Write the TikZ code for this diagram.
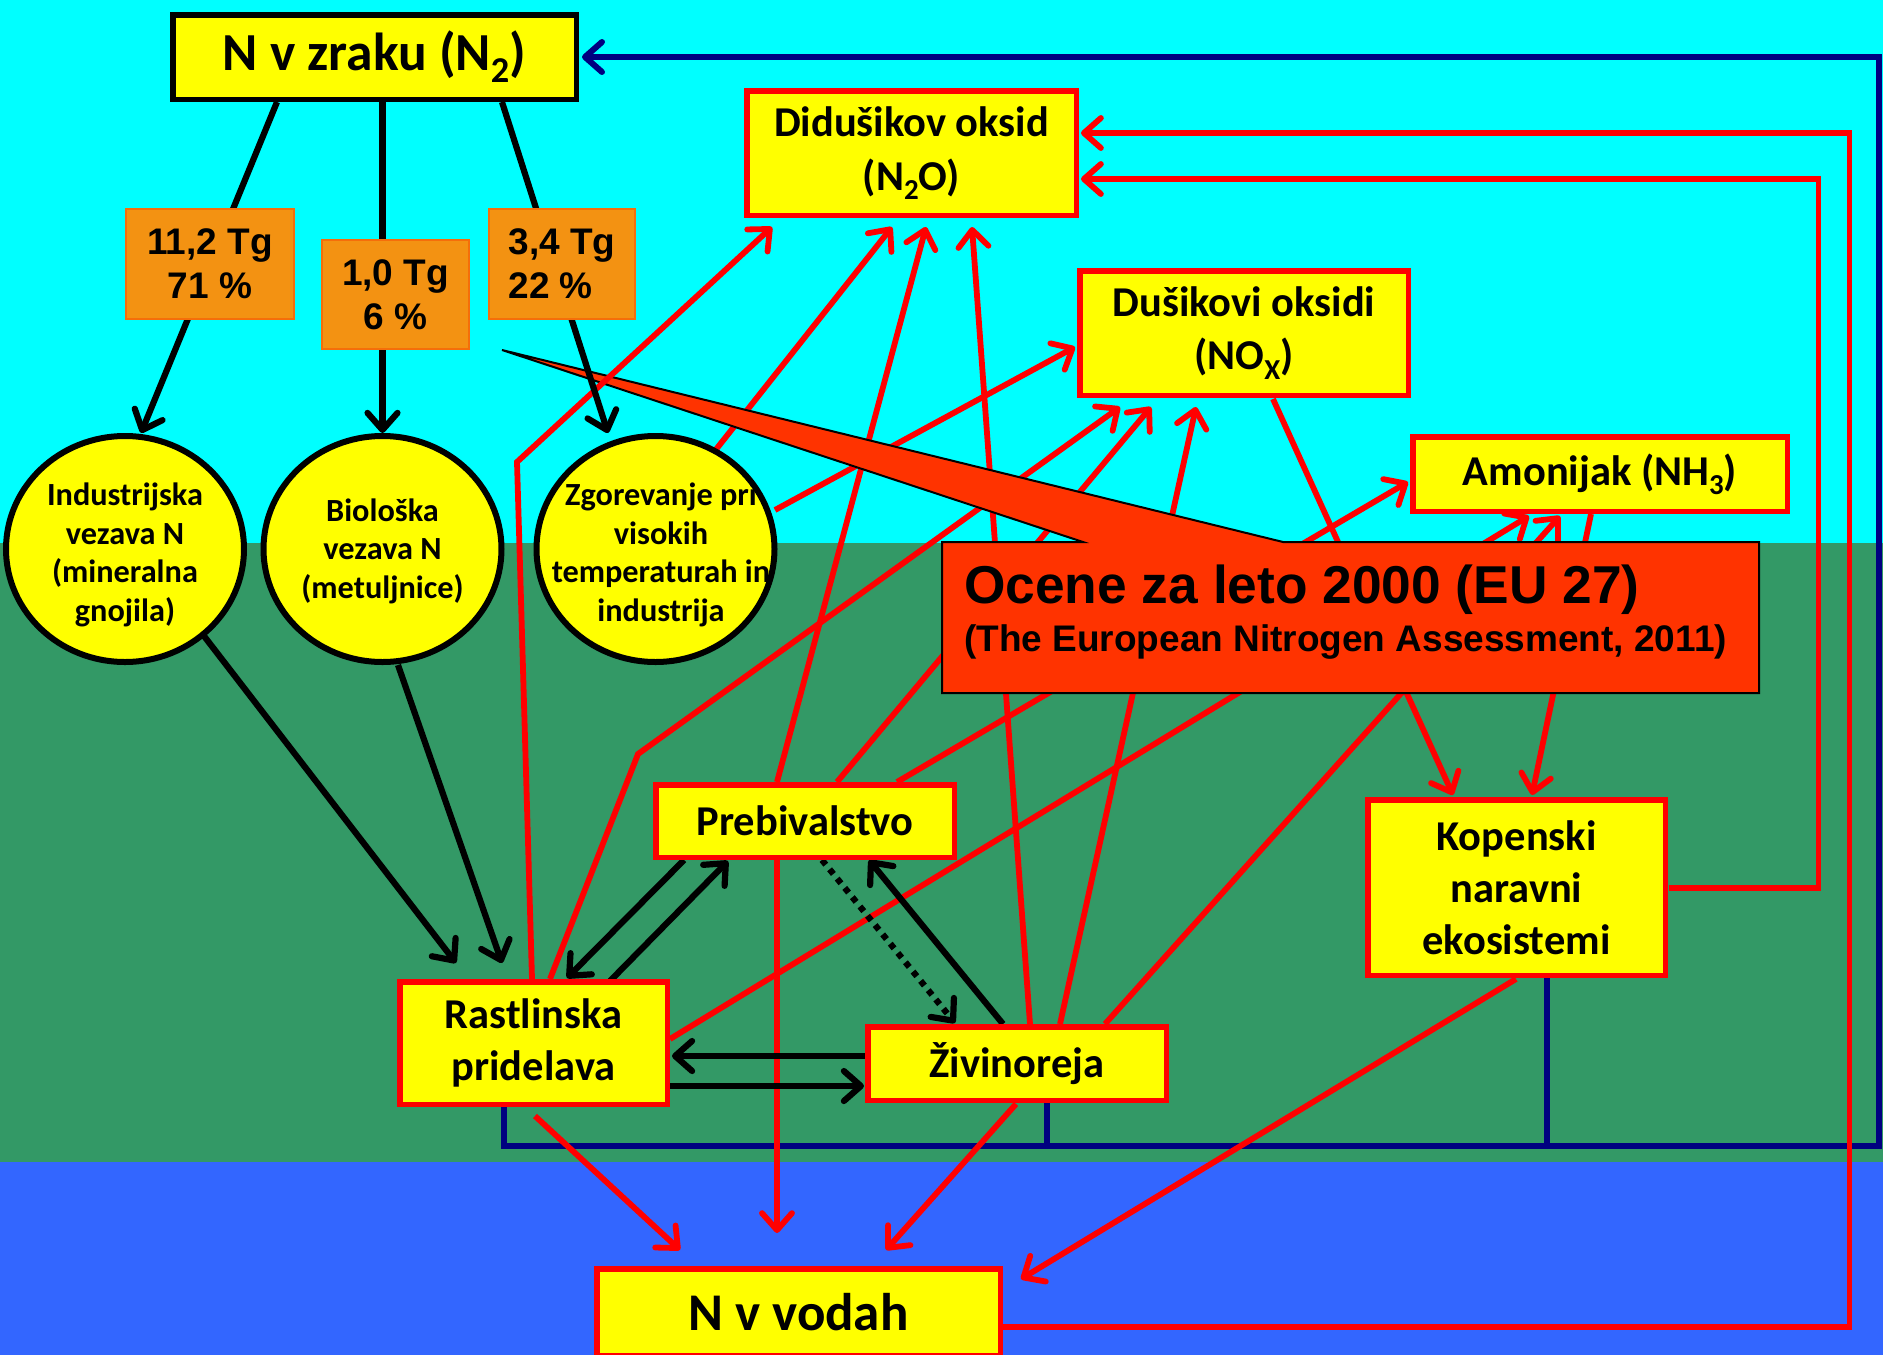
\documentclass[tikz,border=0pt]{standalone}
\usepackage{graphicx}
\usepackage{fontspec}
\setmainfont{Carlito}
\newfontfamily\arialfont{Liberation Sans}
\usetikzlibrary{arrows.meta,calc,shapes.geometric}
\pgfdeclarelayer{bg}
\pgfdeclarelayer{rlines}
\pgfdeclarelayer{calloutlayer}
\pgfdeclarelayer{toplines}
\pgfsetlayers{bg,rlines,calloutlayer,toplines,main}
\definecolor{skycyan}{RGB}{0,255,255}
\definecolor{fieldgreen}{RGB}{51,153,102}
\definecolor{waterblue}{RGB}{51,102,255}
\definecolor{boxyellow}{RGB}{255,255,0}
\definecolor{lred}{RGB}{255,0,0}
\definecolor{lnavy}{RGB}{0,0,128}
\definecolor{ofill}{RGB}{243,146,18}
\definecolor{oborder}{RGB}{245,110,10}
\definecolor{callred}{RGB}{255,51,0}
\newcommand\chemsub[1]{\raisebox{-0.22em}{\scalebox{0.68}{#1}}}
\begin{document}
\begin{tikzpicture}[x=1pt,y=-1pt,
  ybox/.style={draw=lred, line width=5.5pt, fill=boxyellow, inner sep=0pt, outer sep=0pt, align=center, font=\bfseries\fontsize{42.5}{52}\selectfont},
  obox/.style={draw=oborder, line width=2pt, fill=ofill, inner sep=0pt, outer sep=0pt, font=\arialfont\bfseries\fontsize{37}{44}\selectfont},
  yell/.style={ellipse, draw=black, line width=6pt, fill=boxyellow, inner sep=0pt, outer sep=0pt},
  etext/.style={align=center, inner sep=0pt, font=\bfseries\fontsize{32.3}{38.5}\selectfont},
  rline/.style={draw=lred, line width=5.8pt},
  rarr/.style={rline, -{Straight Barb[length=17pt,width=30pt,round]}},
  bline/.style={draw=black, line width=6.2pt},
  barr/.style={bline, -{Straight Barb[length=17pt,width=30pt,round]}},
  nline/.style={draw=lnavy, line width=6pt},
]
\useasboundingbox (0,0) rectangle (1883,1355);
\clip (0,0) rectangle (1883,1355);

% ---------- nodes ----------
\node[ybox, draw=black, minimum width=403.5pt, minimum height=84.5pt, font=\bfseries\fontsize{53.5}{62}\selectfont] (air) at (374.5,57) {N v zraku (N\chemsub{2})};
\node[ybox, minimum width=329.5pt, minimum height=124.5pt, font=\bfseries\fontsize{42.5}{54}\selectfont] (n2o) at (911.5,153) {Didušikov oksid\\(N\chemsub{2}O)};
\node[ybox, minimum width=328.5pt, minimum height=124.5pt, font=\bfseries\fontsize{42.5}{53}\selectfont] (nox) at (1244,333) {Dušikovi oksidi\\(NO\chemsub{X})};
\node[ybox, minimum width=374.5pt, minimum height=74.5pt, font=\bfseries\fontsize{42.5}{51}\selectfont] (nh3) at (1600,474) {Amonijak (NH\chemsub{3})};
\node[ybox, minimum width=298.5pt, minimum height=72.5pt] (preb) at (805,821) {Prebivalstvo};
\node[ybox, minimum width=267.5pt, minimum height=122.5pt] (rast) at (533.5,1043) {Rastlinska\\pridelava};
\node[ybox, minimum width=298.5pt, minimum height=73.5pt] (ziv) at (1017,1063.5) {Živinoreja};
\node[ybox, minimum width=403.5pt, minimum height=86.5pt, font=\bfseries\fontsize{53}{62}\selectfont] (vod) at (798.5,1312) {N v vodah};
\node[ybox, minimum width=297.5pt, minimum height=175.5pt] (kop) at (1516.5,887.5) {Kopenski\\naravni\\ekosistemi};

\node[obox, minimum width=168pt, minimum height=110pt, align=center] (o1) at (210,264) {11,2 Tg\\71 \%};
\node[obox, minimum width=147pt, minimum height=109pt, align=center] (o2) at (395.5,294.5) {1,0 Tg\\6 \%};
\node[obox, minimum width=146pt, minimum height=110pt, align=left] (o3) at (562,264) {3,4 Tg\\22 \%};

\node[yell, minimum width=238pt, minimum height=226pt] (e1) at (125,549) {};
\node[etext] (e1t) at (125,555) {Industrijska\\vezava N\\(mineralna\\gnojila)};
\node[yell, minimum width=238pt, minimum height=226pt] (e2) at (382.5,549) {};
\node[etext] (e2t) at (382.5,551) {Biološka\\vezava N\\(metuljnice)};
\node[yell, minimum width=238pt, minimum height=226pt] (e3) at (655.5,549) {};
\node[etext] (e3t) at (661,555) {Zgorevanje pri\\visokih\\temperaturah in\\industrija};

\node[anchor=base west, inner sep=0pt, font=\arialfont\bfseries\fontsize{53.3}{60}\selectfont] (callout) at (964,603) {Ocene za leto 2000 (EU 27)};
\node[anchor=base west, inner sep=0pt, font=\arialfont\bfseries\fontsize{37}{44}\selectfont] (calloutsub) at (964,651) {(The European Nitrogen Assessment, 2011)};

% ---------- background ----------
\begin{pgfonlayer}{bg}
\fill[skycyan] (0,0) rectangle (1883,543);
\fill[fieldgreen] (0,543) rectangle (1883,1162);
\fill[waterblue] (0,1162) rectangle (1883,1355);
\end{pgfonlayer}

% ---------- navy and red connectors ----------
\begin{pgfonlayer}{rlines}
\coordinate (nbr) at (1879,1146);
\coordinate (ntr) at (1879,57);
\draw[nline, -{Straight Barb[length=17pt,width=30pt,round]}] ($(rast)+(-29.5,60)$) |- (nbr) -- (ntr) -- ($(air)+(207.5,0)$);
\draw[nline] ($(ziv)+(30,37)$) coordinate (zs) -- (zs |- nbr);
\draw[nline] ($(kop)+(30.5,88)$) coordinate (ks) -- (ks |- nbr);

\draw[rarr] ($(e3)+(58.5,-97)$) -- ($(n2o)+(-19.5,74)$);
\draw[rarr] ($(preb)+(-28,-39)$) -- ($(n2o)+(14.5,74)$);
\draw[rarr] ($(ziv)+(13,-39.5)$) -- ($(n2o)+(60.5,74)$);
\draw[rarr] ($(e3)+(119.5,-39)$) -- ($(nox)+(-169,14)$);
\coordinate (kinkB) at (638,754);
\draw[rarr] ($(rast)+(16.5,-64)$) -- (kinkB) -- ($(nox)+(-124,74)$);
\draw[rarr] ($(preb)+(32,-39)$) -- ($(nox)+(-93,74)$);
\draw[rarr] ($(ziv)+(43,-39.5)$) -- ($(nox)+(-48,74)$);
\draw[rarr] ($(nox)+(29,66)$) -- ($(kop)+(-63.5,-92.5)$);
\draw[rarr] ($(preb)+(92,-39)$) -- ($(nh3)+(-192,8)$);
\draw[rarr] ($(rast)+(136.5,-4)$) -- ($(nh3)+(-71,42)$);
\draw[rarr] ($(ziv)+(88,-39.5)$) -- ($(nh3)+(-40,42)$);
\draw[rarr] ($(nh3)+(-9,40)$) -- ($(kop)+(15.5,-92.5)$);
\draw[rarr] ($(kop)+(152,0.5)$) -- ++(150,0) |- ($(n2o)+(169.5,26)$);
\draw[rarr] ($(vod)+(204.5,15)$) -- ++(846.5,0) |- ($(n2o)+(169.5,-20)$);
\draw[rarr] ($(rast)+(1.5,73)$) -- ($(vod)+(-118.5,-62)$);
\draw[rarr] ($(preb)+(-28,39)$) -- ($(vod)+(-21.5,-79)$);
\draw[rarr] ($(ziv)+(-1,40.5)$) -- ($(vod)+(87.5,-62)$);
\draw[rarr] ($(kop)+(-0.5,91.5)$) -- ($(vod)+(222.5,-33)$);
\end{pgfonlayer}

% ---------- callout shape ----------
\begin{pgfonlayer}{calloutlayer}
\filldraw[fill=callred, draw=black, line width=2pt] (942,542) -- (1083,542) -- (502,350) -- (1283,542) -- (1759,542) -- (1759,693) -- (942,693) -- cycle;
\end{pgfonlayer}

% ---------- top lines ----------
\begin{pgfonlayer}{toplines}
\coordinate (kinkA) at (517,462);
\draw[rarr] ($(rast)+(-1.5,-64)$) -- (kinkA) -- ($(n2o)+(-139.5,74)$);

\draw[barr] ($(air)+(-97.5,45)$) -- ($(e1)+(16,-116)$);
\draw[barr] ($(air)+(8,45)$) -- ($(e2)+(0,-116)$);
\draw[barr] ($(air)+(127.5,45)$) -- ($(e3)+(-47.5,-116)$);
\draw[barr] ($(e1)+(79,87)$) -- ($(rast)+(-77.5,-80)$);
\draw[barr] ($(e2)+(15.5,116)$) -- ($(rast)+(-31.5,-80)$);
\draw[barr] ($(preb)+(-121,39)$) -- ($(rast)+(33.5,-65)$);
\draw[barr] ($(rast)+(76.5,-62)$) -- ($(preb)+(-77,40)$);
\draw[barr] ($(ziv)+(-152,-7.5)$) -- ($(rast)+(138.5,13)$);
\draw[barr] ($(rast)+(136.5,43)$) -- ($(ziv)+(-153,22.5)$);
\draw[barr] ($(ziv)+(-14,-39.5)$) -- ($(preb)+(64,39)$);
\draw[barr, dash pattern=on 6pt off 6pt] ($(preb)+(17,39)$) -- ($(ziv)+(-62,-40.5)$);
\end{pgfonlayer}
\end{tikzpicture}
\end{document}
